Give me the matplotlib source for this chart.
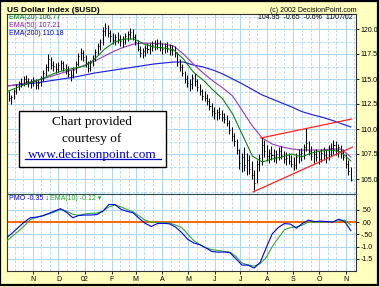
import numpy as np
import pandas as pd
import matplotlib
matplotlib.use('Agg')
import matplotlib.pyplot as plt
import matplotlib.dates as mdates
from matplotlib.patches import Rectangle
from matplotlib.ticker import FixedLocator, FuncFormatter, MultipleLocator

# ---- data ----
start, end = '2001-10-01', '2002-11-07'

# price bars (roughly every second trading day)
bar_low = [
    113.0, 112.8, 112.5, 113.0, 113.5, 113.9, 114.2, 114.3, 114.5, 114.2,
    114.1, 114.3, 114.0, 114.0, 114.3, 114.8, 115.3, 115.8, 116.0, 115.8,
    115.6, 115.7, 115.9, 115.8, 115.5, 115.2, 114.8, 115.1, 115.6, 116.3,
    116.9, 116.8, 116.2, 115.7, 115.8, 116.3, 116.8, 117.4, 117.9, 118.4,
    119.3, 119.2, 118.7, 118.5, 118.4, 118.6, 118.3, 118.2, 118.5, 118.8,
    119.0, 118.9, 118.4, 117.8, 117.2, 117.1, 117.3, 117.6, 117.5, 117.8,
    117.9, 118.0, 117.8, 117.5, 117.6, 117.7, 117.4, 117.4, 117.2, 116.3,
    115.8, 115.3, 114.6, 114.2, 113.8, 114.0, 114.3, 113.8, 113.4, 112.9,
    112.8, 112.4, 111.9, 111.3, 111.0, 110.9, 111.0, 110.8, 110.6, 110.3,
    109.5, 108.8, 108.3, 107.5, 106.0, 105.7, 105.8, 105.4, 105.5, 105.0,
    103.9, 104.6, 105.8, 106.4, 107.2, 106.8, 106.6, 106.9, 106.7, 106.6,
    106.9, 107.0, 106.6, 106.4, 106.5, 106.2, 105.9, 106.0, 106.6, 106.8,
    107.0, 107.8, 107.4, 106.9, 106.6, 106.8, 106.5, 106.7, 106.9, 106.6,
    106.9, 107.3, 107.5, 107.4, 107.2, 107.1, 106.9, 106.1, 105.4, 104.8,
]
bar_high = [
    114.0, 113.8, 113.4, 114.0, 114.5, 114.8, 115.1, 115.3, 115.4, 115.1,
    115.0, 115.2, 115.0, 114.9, 115.3, 115.9, 116.5, 117.5, 117.2, 116.8,
    116.6, 116.7, 116.9, 116.8, 116.5, 116.3, 115.9, 116.2, 116.8, 117.6,
    118.1, 117.9, 117.4, 116.8, 116.9, 117.4, 118.0, 118.6, 119.0, 120.2,
    120.6, 120.4, 119.9, 119.6, 119.5, 119.7, 119.4, 119.3, 119.6, 119.8,
    120.1, 120.0, 119.5, 118.9, 118.3, 118.1, 118.4, 118.6, 118.6, 118.8,
    118.9, 119.0, 118.9, 118.6, 118.6, 118.7, 118.5, 118.4, 118.3, 117.7,
    117.0, 116.5, 115.8, 115.4, 115.0, 115.5, 115.6, 115.0, 114.5, 114.0,
    113.8, 113.5, 113.1, 112.6, 112.2, 112.0, 112.2, 111.9, 111.6, 111.4,
    110.9, 110.2, 109.6, 109.0, 108.0, 107.6, 108.2, 107.6, 107.4, 106.8,
    105.9, 106.9, 107.5, 109.2, 108.9, 108.4, 108.0, 108.3, 108.0, 107.9,
    108.2, 108.3, 107.8, 107.7, 107.6, 107.4, 107.2, 107.6, 108.0, 108.1,
    108.5, 110.1, 108.8, 108.3, 107.9, 108.0, 107.8, 108.0, 108.2, 107.9,
    108.4, 108.6, 108.9, 108.8, 108.5, 108.4, 108.0, 107.5, 106.9, 106.2,
]
bar_close = [
    113.6, 113.1, 113.2, 113.8, 114.2, 114.6, 114.5, 115.0, 114.8, 114.6,
    114.7, 114.9, 114.4, 114.6, 115.1, 115.6, 116.2, 117.0, 116.4, 116.3,
    116.0, 116.4, 116.6, 116.1, 115.9, 115.5, 115.4, 115.9, 116.5, 117.3,
    117.6, 117.2, 116.6, 116.1, 116.6, 117.1, 117.7, 118.3, 118.7, 119.8,
    120.1, 119.6, 119.3, 118.9, 119.2, 119.0, 118.8, 119.0, 119.3, 119.5,
    119.7, 119.2, 118.7, 118.0, 117.6, 117.8, 118.1, 118.0, 118.3, 118.4,
    118.5, 118.6, 118.2, 118.0, 118.3, 118.1, 117.9, 118.0, 117.6, 116.7,
    116.2, 115.6, 115.0, 114.6, 114.5, 115.1, 114.8, 114.2, 113.8, 113.3,
    113.1, 112.8, 112.3, 111.8, 111.6, 111.7, 111.5, 111.2, 111.0, 110.6,
    109.9, 109.3, 108.8, 107.9, 106.6, 107.2, 106.4, 106.9, 106.0, 105.4,
    104.6, 106.5, 107.1, 108.4, 107.8, 107.3, 107.6, 107.4, 107.2, 107.5,
    107.8, 107.4, 107.0, 107.1, 106.8, 106.5, 106.4, 107.2, 107.5, 107.6,
    108.2, 108.6, 107.8, 107.3, 107.5, 107.2, 107.0, 107.6, 107.4, 107.2,
    108.0, 108.1, 108.4, 107.9, 108.2, 107.6, 107.2, 106.5, 105.8, 104.95,
]

# moving averages, sampled evenly across the period
ema20 = [113.7, 114.1, 114.5, 114.8, 115.2, 115.6, 115.9, 116.1, 116.3, 117.0,
         118.0, 118.7, 119.0, 119.0, 118.5, 118.2, 118.1, 117.9, 117.0, 115.7,
         114.9, 113.9, 113.0, 111.5, 109.4, 107.3, 106.7, 107.0, 107.2, 107.5,
         107.2, 107.6, 107.8, 107.9, 107.7, 106.8]
ema50 = [114.3, 114.4, 114.6, 114.8, 115.1, 115.4, 115.7, 116.0, 116.4, 116.8,
         117.3, 117.8, 118.2, 118.5, 118.6, 118.55, 118.5, 118.3, 117.5, 116.5,
         115.6, 114.8, 114.1, 113.3, 111.8, 110.3, 109.1, 108.5, 108.2, 108.0,
         107.9, 107.9, 107.9, 108.0, 108.0, 107.2]
ema200 = [114.3, 114.4, 114.5, 114.6, 114.75, 114.9, 115.05, 115.2, 115.4, 115.6,
          115.75, 115.9, 116.05, 116.2, 116.35, 116.5, 116.6, 116.7, 116.7, 116.4,
          116.2, 115.9, 115.5, 115.0, 114.5, 113.95, 113.4, 113.0, 112.6, 112.2,
          111.75, 111.45, 111.2, 110.9, 110.55, 110.2]

# trend lines
upper_dates = ['2002-07-25', '2002-11-08']
upper_vals = [109.1, 111.0]
lower_dates = ['2002-07-16', '2002-11-09']
lower_vals = [103.7, 108.2]

# price momentum oscillator and its signal line
pmo = [-0.66, -0.45, -0.22, 0.0, 0.18, 0.2, 0.25, 0.35, 0.45, 0.55,
       0.40, 0.18, 0.27, 0.29, 0.29, 0.31, 0.45, 0.72, 0.72, 0.52,
       0.44, 0.38, 0.15, -0.05, -0.18, -0.06, -0.05, -0.07, -0.2, -0.42,
       -0.70, -0.85, -0.92, -1.05, -1.20, -1.23, -1.22, -1.25, -1.5, -1.76,
       -1.76, -1.88, -1.65, -1.05, -0.48, -0.22, -0.06, -0.08, -0.25, -0.05,
       0.08, 0.02, 0.04, 0.02, 0.0, 0.12, 0.02, -0.35]
pmo_ema = [-0.80, -0.58, -0.38, -0.15, 0.10, 0.2, 0.27, 0.33, 0.42, 0.52,
           0.45, 0.32, 0.28, 0.33, 0.36, 0.37, 0.45, 0.62, 0.70, 0.62,
           0.52, 0.42, 0.25, 0.08, 0.0, -0.02, -0.03, -0.03, -0.12, -0.22,
           -0.48, -0.75, -0.92, -1.05, -1.12, -1.16, -1.2, -1.23, -1.4, -1.68,
           -1.75, -1.80, -1.70, -1.45, -1.0, -0.65, -0.32, -0.22, -0.2, -0.12,
           0.0, 0.0, 0.0, 0.0, 0.02, 0.05, 0.08, -0.12]

main_ticks = [105.0, 107.5, 110.0, 112.5, 115.0, 117.5, 120.0]
pmo_ticks = [-1.5, -1.0, -0.5, 0.0, 0.5]
pmo_tick_labels = ['-1.5', '-1.0', '-.50', '.00', '.50']

bar_dates = pd.date_range(start, end, periods=len(bar_close))
ema_dates = pd.date_range(start, end, periods=len(ema20))
pmo_dates = pd.date_range(start, end, periods=len(pmo))

small = ['Liberation Sans Narrow', 'Liberation Sans']
bg = '#FFFFC0'
grid_c = '#A9D6F5'

fig = plt.figure(figsize=(3.79, 2.87), dpi=100, facecolor=bg)
ax = fig.add_axes([7/379, 93/287, 349/379, 180/287])
ax2 = fig.add_axes([7/379, 16/287, 349/379, 77/287], sharex=ax)

# price bars
xnum = mdates.date2num(bar_dates)
ax.vlines(bar_dates, bar_low, bar_high, color='black', lw=0.75, zorder=3)
ax.hlines(bar_close, xnum, xnum + 1.2, color='black', lw=0.7, zorder=3)

ax.plot(ema_dates, ema200, color='#2222DD', lw=0.85, zorder=2)
ax.plot(ema_dates, ema50, color='#A040C0', lw=0.85, zorder=2)
ax.plot(ema_dates, ema20, color='#008000', lw=0.75, zorder=4)
ax.plot(pd.to_datetime(upper_dates), upper_vals, color='#FF2222', lw=0.9, zorder=4)
ax.plot(pd.to_datetime(lower_dates), lower_vals, color='#FF2222', lw=0.9, zorder=4)

ax.set_ylim(103.5, 121.5)
ax.set_xlim(pd.Timestamp('2001-10-02'), pd.Timestamp('2002-11-13'))

# PMO panel
ax2.axhline(0, color='#FF6600', lw=1.4, zorder=2)
ax2.plot(pmo_dates, pmo_ema, color='#33AA33', lw=0.8, zorder=3)
ax2.plot(pmo_dates, pmo, color='#0000EE', lw=0.8, zorder=4)
ax2.set_ylim(-2.0, 1.15)

# axes styling
for a in (ax, ax2):
    a.set_facecolor('white')
    a.yaxis.tick_right()
    a.tick_params(axis='both', which='major', length=2, width=0.6,
                  labelsize=5, pad=1.5, colors='black')
    a.tick_params(which='minor', length=0)
    a.xaxis.set_major_locator(mdates.MonthLocator())
    a.xaxis.set_minor_locator(mdates.MonthLocator(bymonthday=[11, 21]))
    a.grid(True, which='major', color=grid_c, lw=0.7, ls='-', zorder=0)
    a.grid(True, which='minor', axis='x', color=grid_c, lw=0.6, ls=(0, (3, 2)), zorder=0)
    for s in a.spines.values():
        s.set_color('#333333')
        s.set_linewidth(0.8)

ax.yaxis.set_major_locator(FixedLocator(main_ticks))
ax.yaxis.set_minor_locator(MultipleLocator(1.25))
ax.grid(True, which='minor', axis='y', color=grid_c, lw=0.6, ls=(0, (3, 2)), zorder=0)
ax.yaxis.set_major_formatter(FuncFormatter(lambda v, p: f'{v:.1f}'))
ax.tick_params(axis='x', labelbottom=False, length=0)
ax.spines['bottom'].set_color('#2F4F4F')

ax2.yaxis.set_major_locator(FixedLocator(pmo_ticks))
ax2.set_yticklabels(pmo_tick_labels)
ax2.spines['top'].set_color('#2F4F4F')

def month_label(v, pos):
    d = mdates.num2date(v)
    return '02' if d.month == 1 else 'JFMAMJJASOND'[d.month - 1]

ax2.xaxis.set_major_formatter(FuncFormatter(month_label))
for a in (ax, ax2):
    for lab in a.get_yticklabels() + a.get_xticklabels():
        lab.set_family(small)
        lab.set_fontsize(5)

# texts
fig.text(7/379, 1 - 10.5/287, 'US Dollar Index ($USD)', fontsize=6, fontweight='bold',
         family=small, va='center', ha='left')
fig.text(357/379, 1 - 10.5/287, '(c) 2002 DecisionPoint.com', fontsize=5,
         family=small, va='center', ha='right')
ax.text(0.991, 0.983, '104.95  -0.65  -0.6%  11/07/02', transform=ax.transAxes,
        fontsize=5, family=small, ha='right', va='center', zorder=6)
ax.text(0.006, 0.983, 'EMA(20) 106.77', transform=ax.transAxes, color='#007700',
        fontsize=5, family=small, ha='left', va='center', zorder=6)
ax.text(0.006, 0.936, 'EMA(50) 107.21', transform=ax.transAxes, color='#8E1AA8',
        fontsize=5, family=small, ha='left', va='center', zorder=6)
ax.text(0.006, 0.892, 'EMA(200) 110.18', transform=ax.transAxes, color='#0000CC',
        fontsize=5, family=small, ha='left', va='center', zorder=6)
ax2.text(0.006, 0.94, 'PMO -0.35 \u2193', transform=ax2.transAxes, color='#0000EE',
         fontsize=5, family=small + ['DejaVu Sans'], ha='left', va='center', zorder=6)
ax2.text(0.123, 0.94, 'EMA(10) -0.12 \u25be', transform=ax2.transAxes, color='#22AA22',
         fontsize=5, family=small + ['DejaVu Sans'], ha='left', va='center', zorder=6)

# courtesy box
ax.add_patch(Rectangle((0.0344, 0.15), 0.421, 0.311, transform=ax.transAxes,
                       facecolor='white', edgecolor='black', lw=1.0, zorder=7))
serif = ['Liberation Serif', 'DejaVu Serif']
ax.text(0.2436, 0.40, 'Chart provided', transform=ax.transAxes, fontsize=9.5,
        family=serif, ha='center', va='center', zorder=8)
ax.text(0.2436, 0.306, 'courtesy of', transform=ax.transAxes, fontsize=9.5,
        family=serif, ha='center', va='center', zorder=8)
ax.text(0.2436, 0.217, 'www.decisionpoint.com', transform=ax.transAxes, fontsize=9.5,
        family=serif, color='#0000CC', ha='center', va='center', zorder=8)
ax.plot([0.052, 0.44], [0.197, 0.197], transform=ax.transAxes, color='#0000CC',
        lw=0.9, zorder=8)

# outer frame
fig.patches.append(Rectangle((0.001, 0.006), 0.996, 0.992, transform=fig.transFigure,
                             fill=False, edgecolor='black', lw=1.6))

fig.savefig('out.png', dpi=100, facecolor=bg)
